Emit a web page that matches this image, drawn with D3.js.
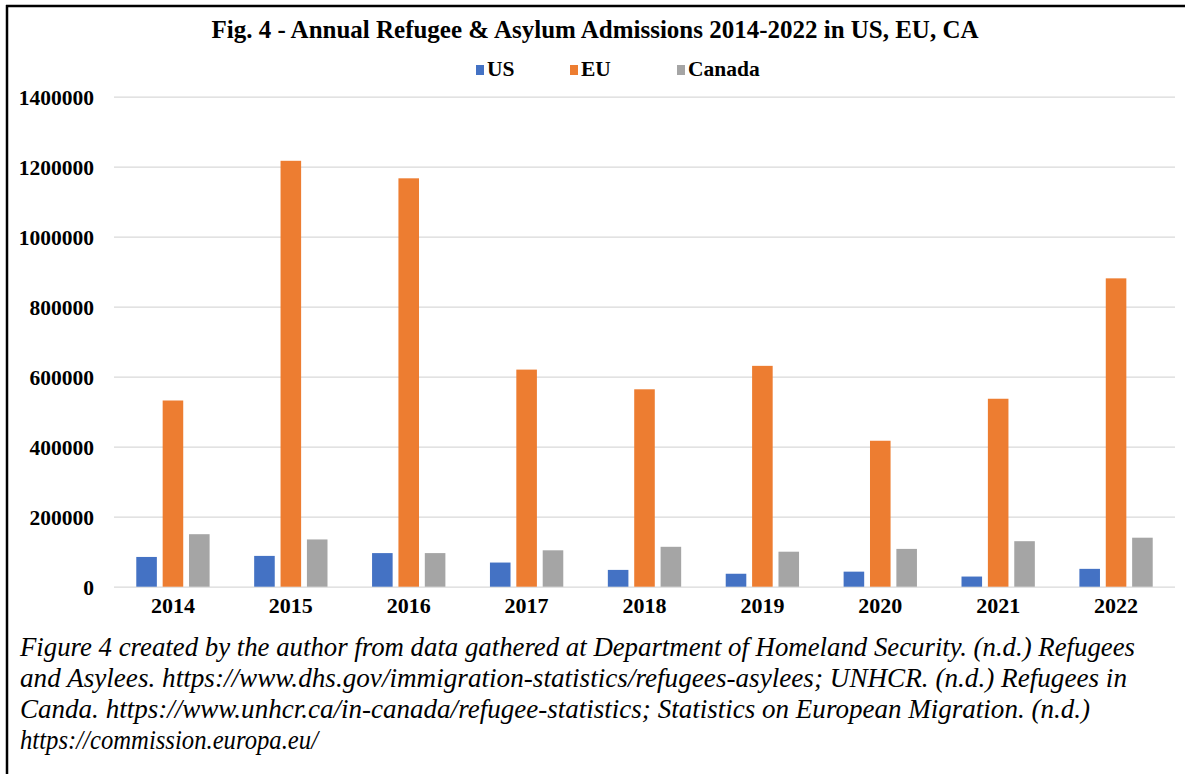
<!DOCTYPE html>
<html>
<head>
<meta charset="utf-8">
<script src="https://cdn.jsdelivr.net/npm/d3@7"></script>
<style>
  html, body { margin: 0; padding: 0; background: #fff; }
  svg { display: block; }
</style>
</head>
<body>
<svg id="chart" width="1185" height="774"></svg>
<script>
// Annual refugee & asylum admissions by region
const years = ["2014", "2015", "2016", "2017", "2018", "2019", "2020", "2021", "2022"];
const seriesNames = ["US", "EU", "Canada"];
const usValues = [85000, 88000, 96000, 69000, 48000, 37000, 43000, 29000, 51000];
const euValues = [532000, 1216860, 1166815, 620265, 564000, 631000, 417000, 537000, 881000];
const canadaValues = [150000, 135000, 96000, 104000, 114000, 100000, 108000, 130000, 140000];
const yTicks = [0, 200000, 400000, 600000, 800000, 1000000, 1200000, 1400000];

const titleText = "Fig. 4 - Annual Refugee & Asylum Admissions 2014-2022 in US, EU, CA";
const captionLines = [
  "Figure 4 created by the author from data gathered at Department of Homeland Security. (n.d.) Refugees",
  "and Asylees. https://www.dhs.gov/immigration-statistics/refugees-asylees; UNHCR. (n.d.) Refugees in",
  "Canda. https://www.unhcr.ca/in-canada/refugee-statistics; Statistics on European Migration. (n.d.)",
  "https://commission.europa.eu/"
];

const colors = { US: "#4472C4", EU: "#ED7D31", Canada: "#A5A5A5" };
const valuesBySeries = { US: usValues, EU: euValues, Canada: canadaValues };
const table = years.map((yr, i) => ({
  year: yr,
  values: seriesNames.map(s => ({ series: s, value: valuesBySeries[s][i] }))
}));

const svg = d3.select("#chart");
const serif = "'Liberation Serif', 'Times New Roman', serif";

// frame lines (top and left)
svg.append("line").attr("x1", 6).attr("x2", 1185).attr("y1", 6).attr("y2", 6)
  .attr("stroke", "#000").attr("stroke-width", 2.5);
svg.append("line").attr("x1", 7).attr("x2", 7).attr("y1", 5).attr("y2", 774)
  .attr("stroke", "#000").attr("stroke-width", 2.5);

const plot = { left: 114, right: 1175, top: 96.7, bottom: 586.7 };

const x0 = d3.scaleBand().domain(years).range([plot.left, plot.right])
  .paddingInner(0.378).paddingOuter(0.189);
const x1 = d3.scaleBand().domain(seriesNames).range([0, x0.bandwidth()]).paddingInner(0.22);
const y = d3.scaleLinear().domain([0, 1400000]).range([plot.bottom, plot.top]);

// gridlines + y labels
const yAxis = d3.axisLeft(y).tickValues(yTicks).tickSize(-(plot.right - plot.left))
  .tickPadding(20).tickFormat(d3.format("d"));
const gy = svg.append("g").attr("transform", `translate(${plot.left},0)`).call(yAxis);
gy.select(".domain").remove();
gy.selectAll(".tick line").attr("stroke", "#D9D9D9").attr("stroke-width", 1.3);
gy.selectAll(".tick text")
  .attr("font-family", serif).attr("font-weight", "bold").attr("font-size", 21.5)
  .attr("fill", "#000").attr("dy", "0.34em");

// bars
const groups = svg.append("g").selectAll("g").data(table).join("g")
  .attr("transform", d => `translate(${x0(d.year)},0)`);
groups.selectAll("rect").data(d => d.values).join("rect")
  .attr("x", d => x1(d.series))
  .attr("width", x1.bandwidth())
  .attr("y", d => y(d.value))
  .attr("height", d => y(0) - y(d.value))
  .attr("fill", d => colors[d.series]);

// x labels
const xAxis = d3.axisBottom(x0).tickSize(0).tickPadding(11);
const gx = svg.append("g").attr("transform", `translate(0,${plot.bottom})`).call(xAxis);
gx.select(".domain").remove();
gx.selectAll(".tick text")
  .attr("font-family", serif).attr("font-weight", "bold").attr("font-size", 22)
  .attr("fill", "#000");

// title
svg.append("text").attr("x", 595).attr("y", 38).attr("text-anchor", "middle")
  .attr("font-family", serif).attr("font-weight", "bold").attr("font-size", 25)
  .attr("textLength", 767).attr("lengthAdjust", "spacingAndGlyphs")
  .text(titleText);

// legend
const legendX = { US: 476, EU: 570, Canada: 677 };
const lg = svg.append("g").selectAll("g").data(seriesNames).join("g")
  .attr("transform", d => `translate(${legendX[d]},65)`);
lg.append("rect").attr("width", 8).attr("height", 10).attr("fill", d => colors[d]);
lg.append("text").attr("x", 11).attr("y", 11)
  .attr("font-family", serif).attr("font-weight", "bold").attr("font-size", 21.5)
  .text(d => d);

// caption lines, each fitted to its set width
const captionWidths = [1115, 1107, 1070, 298];
svg.append("g").selectAll("text").data(captionLines).join("text")
  .attr("x", 20).attr("y", (d, i) => 656 + i * 31)
  .attr("font-family", serif).attr("font-style", "italic").attr("font-size", 27)
  .attr("textLength", (d, i) => captionWidths[i]).attr("lengthAdjust", "spacingAndGlyphs")
  .text(d => d);
</script>
</body>
</html>
